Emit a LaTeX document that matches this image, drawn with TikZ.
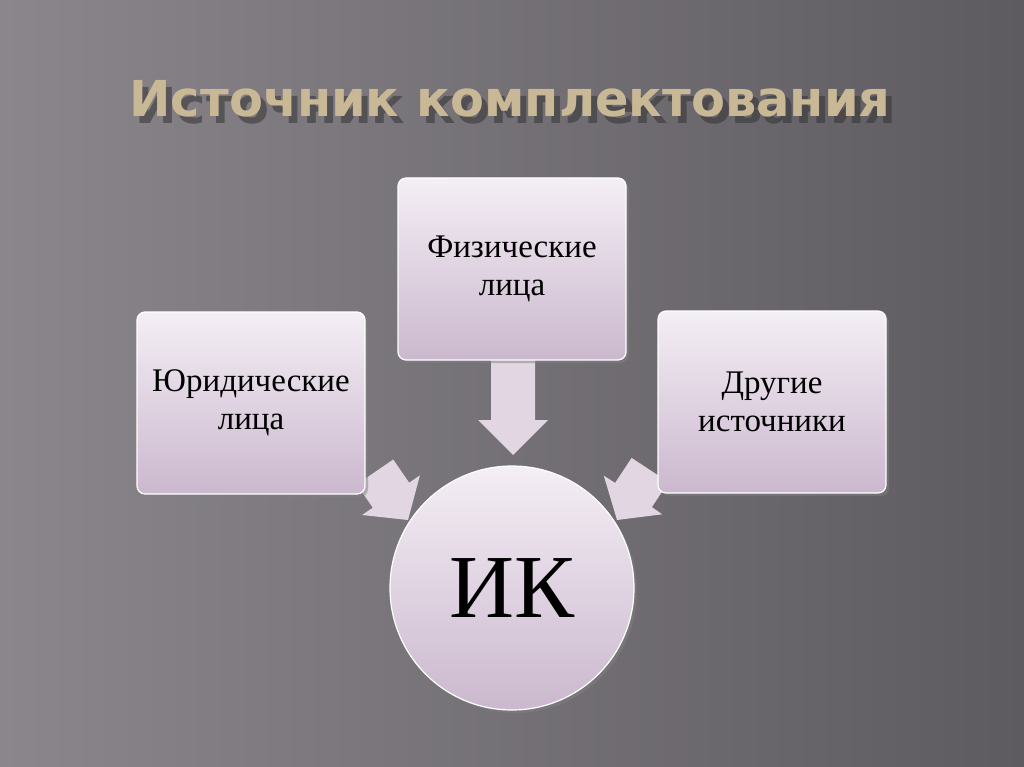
\documentclass[tikz,border=0pt]{standalone}
\usepackage{fontspec}
\setmainfont{Liberation Serif}
\newfontfamily\titlefont{DejaVu Sans}
\usetikzlibrary{shadows}
\definecolor{bgA}{HTML}{8A868C}
\definecolor{bgB}{HTML}{5E5B60}
\definecolor{lavL}{HTML}{F4EEF5}
\definecolor{lavD}{HTML}{CBB8CE}
\definecolor{titlec}{HTML}{C9B896}
\tikzset{
  box/.style={draw=white, line width=1.2pt, rounded corners=8pt, minimum width=228pt, minimum height=182pt,
    top color=lavL, bottom color=lavD, align=center, font=\fontsize{33}{38}\selectfont,
    drop shadow={shadow xshift=3pt, shadow yshift=-3pt, opacity=0.5}},
  blk/.style={fill=lavL!55!lavD, draw=none}
}
\begin{document}
\begin{tikzpicture}[x=1pt,y=-1pt]
\useasboundingbox (0,0) rectangle (1024,767);
\shade[left color=bgA, right color=bgB] (0,0) rectangle (1024,767);
\node[text=black!80, opacity=0.55, font=\titlefont\bfseries\fontsize{49.5}{56}\selectfont] at (516,106) {Источник комплектования};
\node[text=titlec, font=\titlefont\bfseries\fontsize{49.5}{56}\selectfont] (title) at (510,99) {Источник комплектования};
\fill[blk] (491,358)--(535,358)--(535,420)--(548,420)--(513,455)--(478,420)--(491,420)--cycle;
\fill[blk] (393.2,459.5)--(409.2,482.7)--(419.9,475.4)--(408,520)--(362.1,515)--(372.8,507.7)--(356.8,484.5)--cycle;
\fill[blk] (631.6,457.9)--(615.1,482.9)--(603.8,475.7)--(617,520)--(662.2,514.3)--(651.9,507.1)--(668.4,482.1)--cycle;
\node[box] (fiz) at (512,269) {Физические\\лица};
\node[box] (yur) at (251,403) {Юридические\\лица};
\node[box] (dr) at (772,402) {Другие\\источники};
\node[circle, draw=white, line width=1.2pt, minimum size=244pt, top color=lavL, bottom color=lavD,
  drop shadow={shadow xshift=3pt, shadow yshift=-3pt, opacity=0.5},
  font=\fontsize{90}{100}\selectfont] (ik) at (512,588) {ИК};
\end{tikzpicture}
\end{document}
